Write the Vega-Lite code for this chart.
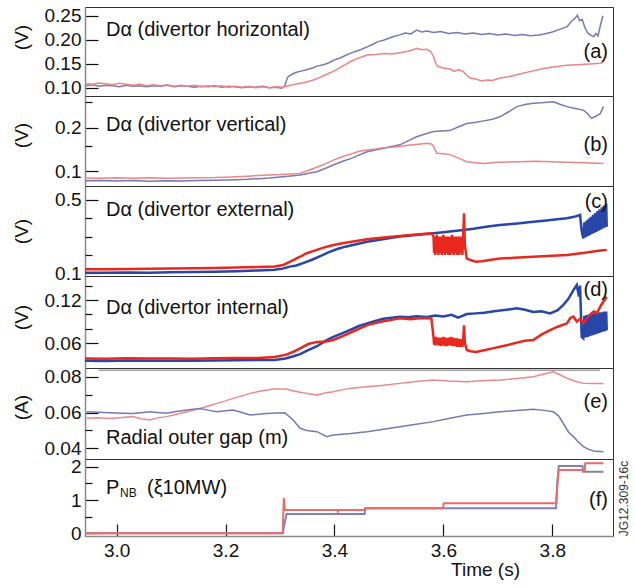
{
"$schema": "https://vega.github.io/schema/vega-lite/v6.json",
"padding": {"left": 11, "top": 6, "right": 0, "bottom": 0},
"config": {
 "font": "Liberation Sans",
 "view": {"stroke": "#333", "strokeWidth": 1},
 "axis": {"grid": false, "labelFontSize": 19, "labelColor": "#111", "titleFontSize": 19, "titleFontWeight": "normal", "titleColor": "#111", "tickColor": "#111", "tickWidth": 1.2, "domainColor": "#8a8a8a", "domainWidth": 1.5, "labelFlush": false, "labelOverlap": false},
 "text": {"font": "Liberation Sans", "fontSize": 20, "color": "#111"}
},
"datasets": {
 "a": [
  {"t":2.942,"v":0.104,"s":"b"},{"t":2.955,"v":0.106,"s":"b"},{"t":2.968,"v":0.103,"s":"b"},{"t":2.98,"v":0.105,"s":"b"},{"t":2.993,"v":0.104,"s":"b"},{"t":3.005,"v":0.102,"s":"b"},{"t":3.018,"v":0.105,"s":"b"},{"t":3.03,"v":0.103,"s":"b"},{"t":3.043,"v":0.104,"s":"b"},{"t":3.055,"v":0.102,"s":"b"},{"t":3.068,"v":0.104,"s":"b"},{"t":3.08,"v":0.103,"s":"b"},{"t":3.093,"v":0.105,"s":"b"},{"t":3.105,"v":0.102,"s":"b"},{"t":3.118,"v":0.104,"s":"b"},{"t":3.13,"v":0.103,"s":"b"},{"t":3.143,"v":0.101,"s":"b"},{"t":3.155,"v":0.103,"s":"b"},{"t":3.168,"v":0.102,"s":"b"},{"t":3.18,"v":0.104,"s":"b"},{"t":3.193,"v":0.101,"s":"b"},{"t":3.205,"v":0.103,"s":"b"},{"t":3.218,"v":0.102,"s":"b"},{"t":3.23,"v":0.1,"s":"b"},{"t":3.243,"v":0.102,"s":"b"},{"t":3.255,"v":0.101,"s":"b"},{"t":3.268,"v":0.103,"s":"b"},{"t":3.28,"v":0.1,"s":"b"},{"t":3.293,"v":0.101,"s":"b"},{"t":3.303,"v":0.099,"s":"b"},{"t":3.309,"v":0.104,"s":"b"},{"t":3.314,"v":0.122,"s":"b"},{"t":3.322,"v":0.128,"s":"b"},{"t":3.33,"v":0.132,"s":"b"},{"t":3.337,"v":0.134,"s":"b"},{"t":3.35,"v":0.138,"s":"b"},{"t":3.36,"v":0.141,"s":"b"},{"t":3.368,"v":0.145,"s":"b"},{"t":3.38,"v":0.148,"s":"b"},{"t":3.39,"v":0.152,"s":"b"},{"t":3.398,"v":0.157,"s":"b"},{"t":3.41,"v":0.162,"s":"b"},{"t":3.42,"v":0.167,"s":"b"},{"t":3.43,"v":0.172,"s":"b"},{"t":3.44,"v":0.176,"s":"b"},{"t":3.45,"v":0.18,"s":"b"},{"t":3.46,"v":0.185,"s":"b"},{"t":3.47,"v":0.19,"s":"b"},{"t":3.48,"v":0.196,"s":"b"},{"t":3.49,"v":0.199,"s":"b"},{"t":3.5,"v":0.203,"s":"b"},{"t":3.51,"v":0.207,"s":"b"},{"t":3.52,"v":0.21,"s":"b"},{"t":3.53,"v":0.214,"s":"b"},{"t":3.54,"v":0.212,"s":"b"},{"t":3.551,"v":0.22,"s":"b"},{"t":3.56,"v":0.216,"s":"b"},{"t":3.57,"v":0.218,"s":"b"},{"t":3.582,"v":0.215,"s":"b"},{"t":3.595,"v":0.217,"s":"b"},{"t":3.61,"v":0.213,"s":"b"},{"t":3.625,"v":0.215,"s":"b"},{"t":3.64,"v":0.212,"s":"b"},{"t":3.655,"v":0.214,"s":"b"},{"t":3.67,"v":0.211,"s":"b"},{"t":3.685,"v":0.213,"s":"b"},{"t":3.7,"v":0.21,"s":"b"},{"t":3.715,"v":0.212,"s":"b"},{"t":3.73,"v":0.209,"s":"b"},{"t":3.745,"v":0.211,"s":"b"},{"t":3.76,"v":0.208,"s":"b"},{"t":3.775,"v":0.21,"s":"b"},{"t":3.785,"v":0.212,"s":"b"},{"t":3.8,"v":0.216,"s":"b"},{"t":3.815,"v":0.222,"s":"b"},{"t":3.827,"v":0.227,"s":"b"},{"t":3.835,"v":0.238,"s":"b"},{"t":3.842,"v":0.245,"s":"b"},{"t":3.846,"v":0.251,"s":"b"},{"t":3.85,"v":0.24,"s":"b"},{"t":3.855,"v":0.242,"s":"b"},{"t":3.86,"v":0.225,"s":"b"},{"t":3.865,"v":0.214,"s":"b"},{"t":3.87,"v":0.21,"s":"b"},{"t":3.876,"v":0.206,"s":"b"},{"t":3.88,"v":0.213,"s":"b"},{"t":3.884,"v":0.208,"s":"b"},{"t":3.888,"v":0.228,"s":"b"},{"t":3.893,"v":0.25,"s":"b"},
  {"t":2.942,"v":0.109,"s":"r"},{"t":2.955,"v":0.107,"s":"r"},{"t":2.968,"v":0.11,"s":"r"},{"t":2.98,"v":0.108,"s":"r"},{"t":2.993,"v":0.106,"s":"r"},{"t":3.005,"v":0.109,"s":"r"},{"t":3.018,"v":0.107,"s":"r"},{"t":3.03,"v":0.105,"s":"r"},{"t":3.043,"v":0.107,"s":"r"},{"t":3.055,"v":0.104,"s":"r"},{"t":3.068,"v":0.106,"s":"r"},{"t":3.08,"v":0.104,"s":"r"},{"t":3.093,"v":0.106,"s":"r"},{"t":3.105,"v":0.103,"s":"r"},{"t":3.118,"v":0.105,"s":"r"},{"t":3.13,"v":0.103,"s":"r"},{"t":3.143,"v":0.105,"s":"r"},{"t":3.155,"v":0.102,"s":"r"},{"t":3.168,"v":0.104,"s":"r"},{"t":3.18,"v":0.102,"s":"r"},{"t":3.193,"v":0.104,"s":"r"},{"t":3.205,"v":0.101,"s":"r"},{"t":3.218,"v":0.103,"s":"r"},{"t":3.23,"v":0.101,"s":"r"},{"t":3.243,"v":0.103,"s":"r"},{"t":3.255,"v":0.1,"s":"r"},{"t":3.268,"v":0.102,"s":"r"},{"t":3.28,"v":0.1,"s":"r"},{"t":3.293,"v":0.102,"s":"r"},{"t":3.305,"v":0.101,"s":"r"},{"t":3.315,"v":0.104,"s":"r"},{"t":3.328,"v":0.107,"s":"r"},{"t":3.34,"v":0.11,"s":"r"},{"t":3.352,"v":0.113,"s":"r"},{"t":3.361,"v":0.116,"s":"r"},{"t":3.37,"v":0.12,"s":"r"},{"t":3.38,"v":0.125,"s":"r"},{"t":3.39,"v":0.13,"s":"r"},{"t":3.398,"v":0.134,"s":"r"},{"t":3.41,"v":0.142,"s":"r"},{"t":3.42,"v":0.148,"s":"r"},{"t":3.429,"v":0.154,"s":"r"},{"t":3.44,"v":0.16,"s":"r"},{"t":3.45,"v":0.164,"s":"r"},{"t":3.46,"v":0.168,"s":"r"},{"t":3.475,"v":0.169,"s":"r"},{"t":3.49,"v":0.171,"s":"r"},{"t":3.505,"v":0.17,"s":"r"},{"t":3.52,"v":0.173,"s":"r"},{"t":3.535,"v":0.176,"s":"r"},{"t":3.545,"v":0.179,"s":"r"},{"t":3.551,"v":0.182,"s":"r"},{"t":3.56,"v":0.179,"s":"r"},{"t":3.57,"v":0.18,"s":"r"},{"t":3.577,"v":0.175,"s":"r"},{"t":3.582,"v":0.165,"s":"r"},{"t":3.586,"v":0.15,"s":"r"},{"t":3.59,"v":0.144,"s":"r"},{"t":3.6,"v":0.141,"s":"r"},{"t":3.612,"v":0.139,"s":"r"},{"t":3.62,"v":0.134,"s":"r"},{"t":3.628,"v":0.138,"s":"r"},{"t":3.636,"v":0.134,"s":"r"},{"t":3.643,"v":0.126,"s":"r"},{"t":3.649,"v":0.12,"s":"r"},{"t":3.66,"v":0.118,"s":"r"},{"t":3.67,"v":0.114,"s":"r"},{"t":3.68,"v":0.116,"s":"r"},{"t":3.69,"v":0.115,"s":"r"},{"t":3.704,"v":0.12,"s":"r"},{"t":3.72,"v":0.123,"s":"r"},{"t":3.735,"v":0.127,"s":"r"},{"t":3.75,"v":0.131,"s":"r"},{"t":3.765,"v":0.135,"s":"r"},{"t":3.78,"v":0.139,"s":"r"},{"t":3.795,"v":0.142,"s":"r"},{"t":3.81,"v":0.144,"s":"r"},{"t":3.827,"v":0.147,"s":"r"},{"t":3.845,"v":0.148,"s":"r"},{"t":3.86,"v":0.149,"s":"r"},{"t":3.875,"v":0.15,"s":"r"},{"t":3.888,"v":0.151,"s":"r"},{"t":3.894,"v":0.153,"s":"r"}
 ],
 "b": [
  {"t":2.942,"v":0.0855,"s":"b"},{"t":2.97,"v":0.086,"s":"b"},{"t":3.0,"v":0.0852,"s":"b"},{"t":3.03,"v":0.0858,"s":"b"},{"t":3.06,"v":0.085,"s":"b"},{"t":3.09,"v":0.0856,"s":"b"},{"t":3.12,"v":0.0853,"s":"b"},{"t":3.15,"v":0.0858,"s":"b"},{"t":3.18,"v":0.0862,"s":"b"},{"t":3.2,"v":0.0865,"s":"b"},{"t":3.22,"v":0.087,"s":"b"},{"t":3.24,"v":0.0875,"s":"b"},{"t":3.26,"v":0.0885,"s":"b"},{"t":3.28,"v":0.0895,"s":"b"},{"t":3.3,"v":0.091,"s":"b"},{"t":3.32,"v":0.0925,"s":"b"},{"t":3.337,"v":0.0938,"s":"b"},{"t":3.355,"v":0.097,"s":"b"},{"t":3.368,"v":0.099,"s":"b"},{"t":3.385,"v":0.105,"s":"b"},{"t":3.398,"v":0.11,"s":"b"},{"t":3.415,"v":0.117,"s":"b"},{"t":3.43,"v":0.122,"s":"b"},{"t":3.445,"v":0.129,"s":"b"},{"t":3.46,"v":0.136,"s":"b"},{"t":3.475,"v":0.14,"s":"b"},{"t":3.49,"v":0.144,"s":"b"},{"t":3.505,"v":0.148,"s":"b"},{"t":3.52,"v":0.152,"s":"b"},{"t":3.535,"v":0.162,"s":"b"},{"t":3.551,"v":0.173,"s":"b"},{"t":3.565,"v":0.18,"s":"b"},{"t":3.582,"v":0.188,"s":"b"},{"t":3.597,"v":0.19,"s":"b"},{"t":3.612,"v":0.191,"s":"b"},{"t":3.628,"v":0.203,"s":"b"},{"t":3.643,"v":0.214,"s":"b"},{"t":3.66,"v":0.218,"s":"b"},{"t":3.674,"v":0.223,"s":"b"},{"t":3.69,"v":0.229,"s":"b"},{"t":3.704,"v":0.238,"s":"b"},{"t":3.72,"v":0.258,"s":"b"},{"t":3.735,"v":0.28,"s":"b"},{"t":3.75,"v":0.29,"s":"b"},{"t":3.765,"v":0.296,"s":"b"},{"t":3.78,"v":0.298,"s":"b"},{"t":3.802,"v":0.303,"s":"b"},{"t":3.815,"v":0.29,"s":"b"},{"t":3.827,"v":0.28,"s":"b"},{"t":3.842,"v":0.272,"s":"b"},{"t":3.857,"v":0.265,"s":"b"},{"t":3.865,"v":0.25,"s":"b"},{"t":3.872,"v":0.232,"s":"b"},{"t":3.88,"v":0.24,"s":"b"},{"t":3.888,"v":0.25,"s":"b"},{"t":3.894,"v":0.28,"s":"b"},
  {"t":2.942,"v":0.0895,"s":"r"},{"t":2.97,"v":0.089,"s":"r"},{"t":3.0,"v":0.0898,"s":"r"},{"t":3.03,"v":0.0892,"s":"r"},{"t":3.06,"v":0.0897,"s":"r"},{"t":3.09,"v":0.089,"s":"r"},{"t":3.12,"v":0.0895,"s":"r"},{"t":3.15,"v":0.0898,"s":"r"},{"t":3.18,"v":0.09,"s":"r"},{"t":3.2,"v":0.0905,"s":"r"},{"t":3.22,"v":0.0912,"s":"r"},{"t":3.24,"v":0.092,"s":"r"},{"t":3.26,"v":0.093,"s":"r"},{"t":3.28,"v":0.094,"s":"r"},{"t":3.3,"v":0.0945,"s":"r"},{"t":3.32,"v":0.0955,"s":"r"},{"t":3.337,"v":0.0963,"s":"r"},{"t":3.355,"v":0.102,"s":"r"},{"t":3.37,"v":0.107,"s":"r"},{"t":3.385,"v":0.113,"s":"r"},{"t":3.398,"v":0.119,"s":"r"},{"t":3.415,"v":0.126,"s":"r"},{"t":3.43,"v":0.131,"s":"r"},{"t":3.445,"v":0.137,"s":"r"},{"t":3.46,"v":0.14,"s":"r"},{"t":3.475,"v":0.142,"s":"r"},{"t":3.49,"v":0.145,"s":"r"},{"t":3.505,"v":0.146,"s":"r"},{"t":3.52,"v":0.148,"s":"r"},{"t":3.535,"v":0.151,"s":"r"},{"t":3.55,"v":0.153,"s":"r"},{"t":3.57,"v":0.156,"s":"r"},{"t":3.578,"v":0.154,"s":"r"},{"t":3.582,"v":0.148,"s":"r"},{"t":3.588,"v":0.133,"s":"r"},{"t":3.6,"v":0.132,"s":"r"},{"t":3.612,"v":0.13,"s":"r"},{"t":3.628,"v":0.123,"s":"r"},{"t":3.643,"v":0.116,"s":"r"},{"t":3.66,"v":0.114,"s":"r"},{"t":3.674,"v":0.113,"s":"r"},{"t":3.7,"v":0.115,"s":"r"},{"t":3.735,"v":0.116,"s":"r"},{"t":3.77,"v":0.117,"s":"r"},{"t":3.8,"v":0.116,"s":"r"},{"t":3.827,"v":0.115,"s":"r"},{"t":3.86,"v":0.114,"s":"r"},{"t":3.894,"v":0.113,"s":"r"}
 ],
 "c": [
  {"t":2.942,"v":0.103,"s":"b"},{"t":2.98,"v":0.102,"s":"b"},{"t":3.02,"v":0.104,"s":"b"},{"t":3.06,"v":0.103,"s":"b"},{"t":3.1,"v":0.105,"s":"b"},{"t":3.14,"v":0.106,"s":"b"},{"t":3.18,"v":0.108,"s":"b"},{"t":3.22,"v":0.111,"s":"b"},{"t":3.26,"v":0.115,"s":"b"},{"t":3.29,"v":0.119,"s":"b"},{"t":3.305,"v":0.125,"s":"b"},{"t":3.318,"v":0.136,"s":"b"},{"t":3.33,"v":0.142,"s":"b"},{"t":3.345,"v":0.158,"s":"b"},{"t":3.36,"v":0.175,"s":"b"},{"t":3.375,"v":0.195,"s":"b"},{"t":3.39,"v":0.215,"s":"b"},{"t":3.405,"v":0.232,"s":"b"},{"t":3.42,"v":0.245,"s":"b"},{"t":3.44,"v":0.258,"s":"b"},{"t":3.46,"v":0.272,"s":"b"},{"t":3.48,"v":0.282,"s":"b"},{"t":3.5,"v":0.291,"s":"b"},{"t":3.52,"v":0.3,"s":"b"},{"t":3.54,"v":0.306,"s":"b"},{"t":3.56,"v":0.312,"s":"b"},{"t":3.582,"v":0.318,"s":"b"},{"t":3.6,"v":0.324,"s":"b"},{"t":3.62,"v":0.33,"s":"b"},{"t":3.637,"v":0.336,"s":"b"},{"t":3.655,"v":0.343,"s":"b"},{"t":3.67,"v":0.35,"s":"b"},{"t":3.685,"v":0.356,"s":"b"},{"t":3.704,"v":0.363,"s":"b"},{"t":3.72,"v":0.368,"s":"b"},{"t":3.74,"v":0.373,"s":"b"},{"t":3.765,"v":0.381,"s":"b"},{"t":3.785,"v":0.387,"s":"b"},{"t":3.805,"v":0.393,"s":"b"},{"t":3.827,"v":0.4,"s":"b"},{"t":3.84,"v":0.408,"s":"b"},{"t":3.851,"v":0.418,"s":"b"},{"t":3.854,"v":0.33,"s":"b"},
  {"t":3.857,"v":0.29,"s":"b"},{"t":3.859,"v":0.378,"s":"b"},{"t":3.861,"v":0.296,"s":"b"},{"t":3.863,"v":0.388,"s":"b"},{"t":3.865,"v":0.302,"s":"b"},{"t":3.867,"v":0.398,"s":"b"},{"t":3.869,"v":0.308,"s":"b"},{"t":3.871,"v":0.408,"s":"b"},{"t":3.873,"v":0.314,"s":"b"},{"t":3.875,"v":0.419,"s":"b"},{"t":3.877,"v":0.32,"s":"b"},{"t":3.879,"v":0.429,"s":"b"},{"t":3.881,"v":0.326,"s":"b"},{"t":3.883,"v":0.439,"s":"b"},{"t":3.885,"v":0.332,"s":"b"},{"t":3.887,"v":0.449,"s":"b"},{"t":3.889,"v":0.338,"s":"b"},{"t":3.891,"v":0.46,"s":"b"},{"t":3.893,"v":0.344,"s":"b"},{"t":3.895,"v":0.47,"s":"b"},{"t":3.897,"v":0.35,"s":"b"},{"t":3.899,"v":0.48,"s":"b"},{"t":3.9,"v":0.354,"s":"b"},
  {"t":2.942,"v":0.121,"s":"r"},{"t":2.98,"v":0.122,"s":"r"},{"t":3.02,"v":0.123,"s":"r"},{"t":3.06,"v":0.124,"s":"r"},{"t":3.1,"v":0.126,"s":"r"},{"t":3.14,"v":0.127,"s":"r"},{"t":3.18,"v":0.129,"s":"r"},{"t":3.22,"v":0.131,"s":"r"},{"t":3.26,"v":0.134,"s":"r"},{"t":3.29,"v":0.137,"s":"r"},{"t":3.306,"v":0.145,"s":"r"},{"t":3.318,"v":0.162,"s":"r"},{"t":3.337,"v":0.19,"s":"r"},{"t":3.349,"v":0.209,"s":"r"},{"t":3.365,"v":0.225,"s":"r"},{"t":3.38,"v":0.24,"s":"r"},{"t":3.398,"v":0.254,"s":"r"},{"t":3.42,"v":0.266,"s":"r"},{"t":3.44,"v":0.276,"s":"r"},{"t":3.46,"v":0.285,"s":"r"},{"t":3.49,"v":0.295,"s":"r"},{"t":3.52,"v":0.303,"s":"r"},{"t":3.55,"v":0.311,"s":"r"},{"t":3.578,"v":0.318,"s":"r"},
  {"t":3.582,"v":0.3,"s":"r"},{"t":3.583,"v":0.21,"s":"r"},{"t":3.584,"v":0.29,"s":"r"},{"t":3.585,"v":0.2,"s":"r"},{"t":3.586,"v":0.3,"s":"r"},{"t":3.587,"v":0.22,"s":"r"},{"t":3.588,"v":0.31,"s":"r"},{"t":3.589,"v":0.21,"s":"r"},{"t":3.59,"v":0.28,"s":"r"},{"t":3.591,"v":0.2,"s":"r"},{"t":3.592,"v":0.3,"s":"r"},{"t":3.593,"v":0.22,"s":"r"},{"t":3.594,"v":0.29,"s":"r"},{"t":3.595,"v":0.21,"s":"r"},{"t":3.596,"v":0.3,"s":"r"},{"t":3.597,"v":0.2,"s":"r"},{"t":3.598,"v":0.28,"s":"r"},{"t":3.599,"v":0.22,"s":"r"},{"t":3.6,"v":0.31,"s":"r"},{"t":3.601,"v":0.21,"s":"r"},{"t":3.602,"v":0.29,"s":"r"},{"t":3.603,"v":0.2,"s":"r"},{"t":3.604,"v":0.3,"s":"r"},{"t":3.605,"v":0.21,"s":"r"},{"t":3.606,"v":0.29,"s":"r"},{"t":3.607,"v":0.22,"s":"r"},{"t":3.608,"v":0.3,"s":"r"},{"t":3.609,"v":0.2,"s":"r"},{"t":3.61,"v":0.29,"s":"r"},{"t":3.611,"v":0.21,"s":"r"},{"t":3.612,"v":0.3,"s":"r"},{"t":3.613,"v":0.2,"s":"r"},{"t":3.614,"v":0.28,"s":"r"},{"t":3.615,"v":0.22,"s":"r"},{"t":3.616,"v":0.31,"s":"r"},{"t":3.617,"v":0.21,"s":"r"},{"t":3.618,"v":0.29,"s":"r"},{"t":3.619,"v":0.2,"s":"r"},{"t":3.62,"v":0.3,"s":"r"},{"t":3.621,"v":0.21,"s":"r"},{"t":3.622,"v":0.29,"s":"r"},{"t":3.623,"v":0.22,"s":"r"},{"t":3.624,"v":0.3,"s":"r"},{"t":3.625,"v":0.2,"s":"r"},{"t":3.626,"v":0.29,"s":"r"},{"t":3.627,"v":0.21,"s":"r"},{"t":3.628,"v":0.3,"s":"r"},{"t":3.629,"v":0.2,"s":"r"},{"t":3.63,"v":0.28,"s":"r"},{"t":3.631,"v":0.22,"s":"r"},{"t":3.632,"v":0.3,"s":"r"},{"t":3.633,"v":0.21,"s":"r"},{"t":3.634,"v":0.29,"s":"r"},{"t":3.635,"v":0.2,"s":"r"},{"t":3.636,"v":0.27,"s":"r"},
  {"t":3.638,"v":0.427,"s":"r"},{"t":3.6395,"v":0.25,"s":"r"},{"t":3.643,"v":0.181,"s":"r"},{"t":3.65,"v":0.172,"s":"r"},{"t":3.66,"v":0.162,"s":"r"},{"t":3.67,"v":0.165,"s":"r"},{"t":3.685,"v":0.172,"s":"r"},{"t":3.704,"v":0.18,"s":"r"},{"t":3.73,"v":0.184,"s":"r"},{"t":3.765,"v":0.19,"s":"r"},{"t":3.8,"v":0.195,"s":"r"},{"t":3.827,"v":0.2,"s":"r"},{"t":3.86,"v":0.212,"s":"r"},{"t":3.888,"v":0.224,"s":"r"},{"t":3.9,"v":0.227,"s":"r"}
 ],
 "d": [
  {"t":2.942,"v":0.036,"s":"b"},{"t":2.98,"v":0.0355,"s":"b"},{"t":3.02,"v":0.0362,"s":"b"},{"t":3.06,"v":0.0358,"s":"b"},{"t":3.1,"v":0.036,"s":"b"},{"t":3.14,"v":0.0357,"s":"b"},{"t":3.18,"v":0.0362,"s":"b"},{"t":3.22,"v":0.0365,"s":"b"},{"t":3.26,"v":0.0368,"s":"b"},{"t":3.29,"v":0.037,"s":"b"},{"t":3.31,"v":0.039,"s":"b"},{"t":3.325,"v":0.042,"s":"b"},{"t":3.337,"v":0.045,"s":"b"},{"t":3.35,"v":0.05,"s":"b"},{"t":3.368,"v":0.056,"s":"b"},{"t":3.385,"v":0.064,"s":"b"},{"t":3.398,"v":0.069,"s":"b"},{"t":3.415,"v":0.074,"s":"b"},{"t":3.43,"v":0.079,"s":"b"},{"t":3.445,"v":0.084,"s":"b"},{"t":3.46,"v":0.0877,"s":"b"},{"t":3.475,"v":0.091,"s":"b"},{"t":3.49,"v":0.094,"s":"b"},{"t":3.505,"v":0.0955,"s":"b"},{"t":3.52,"v":0.0969,"s":"b"},{"t":3.535,"v":0.096,"s":"b"},{"t":3.55,"v":0.0975,"s":"b"},{"t":3.57,"v":0.0965,"s":"b"},{"t":3.585,"v":0.0985,"s":"b"},{"t":3.6,"v":0.0972,"s":"b"},{"t":3.615,"v":0.0995,"s":"b"},{"t":3.627,"v":0.0955,"s":"b"},{"t":3.643,"v":0.1005,"s":"b"},{"t":3.66,"v":0.1015,"s":"b"},{"t":3.675,"v":0.1025,"s":"b"},{"t":3.69,"v":0.104,"s":"b"},{"t":3.704,"v":0.1055,"s":"b"},{"t":3.72,"v":0.107,"s":"b"},{"t":3.735,"v":0.1085,"s":"b"},{"t":3.75,"v":0.1065,"s":"b"},{"t":3.765,"v":0.1035,"s":"b"},{"t":3.78,"v":0.1045,"s":"b"},{"t":3.796,"v":0.1015,"s":"b"},{"t":3.81,"v":0.106,"s":"b"},{"t":3.82,"v":0.113,"s":"b"},{"t":3.83,"v":0.122,"s":"b"},{"t":3.839,"v":0.134,"s":"b"},{"t":3.845,"v":0.1408,"s":"b"},{"t":3.849,"v":0.125,"s":"b"},{"t":3.851,"v":0.14,"s":"b"},{"t":3.854,"v":0.069,"s":"b"},
  {"t":3.857,"v":0.067,"s":"b"},{"t":3.859,"v":0.098,"s":"b"},{"t":3.861,"v":0.068,"s":"b"},{"t":3.863,"v":0.099,"s":"b"},{"t":3.865,"v":0.069,"s":"b"},{"t":3.867,"v":0.1,"s":"b"},{"t":3.869,"v":0.07,"s":"b"},{"t":3.871,"v":0.1,"s":"b"},{"t":3.873,"v":0.071,"s":"b"},{"t":3.875,"v":0.101,"s":"b"},{"t":3.877,"v":0.072,"s":"b"},{"t":3.879,"v":0.102,"s":"b"},{"t":3.881,"v":0.073,"s":"b"},{"t":3.883,"v":0.102,"s":"b"},{"t":3.885,"v":0.074,"s":"b"},{"t":3.887,"v":0.103,"s":"b"},{"t":3.889,"v":0.075,"s":"b"},{"t":3.891,"v":0.103,"s":"b"},{"t":3.893,"v":0.076,"s":"b"},{"t":3.895,"v":0.104,"s":"b"},{"t":3.897,"v":0.077,"s":"b"},{"t":3.899,"v":0.104,"s":"b"},{"t":3.9,"v":0.078,"s":"b"},
  {"t":2.942,"v":0.039,"s":"r"},{"t":2.98,"v":0.0385,"s":"r"},{"t":3.02,"v":0.0392,"s":"r"},{"t":3.06,"v":0.0388,"s":"r"},{"t":3.1,"v":0.039,"s":"r"},{"t":3.14,"v":0.0387,"s":"r"},{"t":3.18,"v":0.0392,"s":"r"},{"t":3.22,"v":0.0395,"s":"r"},{"t":3.26,"v":0.0398,"s":"r"},{"t":3.29,"v":0.041,"s":"r"},{"t":3.31,"v":0.044,"s":"r"},{"t":3.324,"v":0.048,"s":"r"},{"t":3.337,"v":0.053,"s":"r"},{"t":3.352,"v":0.059,"s":"r"},{"t":3.368,"v":0.062,"s":"r"},{"t":3.385,"v":0.0625,"s":"r"},{"t":3.398,"v":0.0646,"s":"r"},{"t":3.415,"v":0.07,"s":"r"},{"t":3.43,"v":0.075,"s":"r"},{"t":3.445,"v":0.08,"s":"r"},{"t":3.46,"v":0.0853,"s":"r"},{"t":3.475,"v":0.088,"s":"r"},{"t":3.49,"v":0.0905,"s":"r"},{"t":3.505,"v":0.0925,"s":"r"},{"t":3.52,"v":0.0946,"s":"r"},{"t":3.54,"v":0.0935,"s":"r"},{"t":3.56,"v":0.095,"s":"r"},{"t":3.578,"v":0.0946,"s":"r"},
  {"t":3.582,"v":0.068,"s":"r"},{"t":3.583,"v":0.058,"s":"r"},{"t":3.584,"v":0.067,"s":"r"},{"t":3.585,"v":0.057,"s":"r"},{"t":3.586,"v":0.069,"s":"r"},{"t":3.587,"v":0.059,"s":"r"},{"t":3.588,"v":0.068,"s":"r"},{"t":3.589,"v":0.058,"s":"r"},{"t":3.59,"v":0.066,"s":"r"},{"t":3.591,"v":0.057,"s":"r"},{"t":3.592,"v":0.068,"s":"r"},{"t":3.593,"v":0.058,"s":"r"},{"t":3.594,"v":0.067,"s":"r"},{"t":3.595,"v":0.056,"s":"r"},{"t":3.596,"v":0.068,"s":"r"},{"t":3.597,"v":0.058,"s":"r"},{"t":3.598,"v":0.066,"s":"r"},{"t":3.599,"v":0.057,"s":"r"},{"t":3.6,"v":0.069,"s":"r"},{"t":3.601,"v":0.058,"s":"r"},{"t":3.602,"v":0.067,"s":"r"},{"t":3.603,"v":0.056,"s":"r"},{"t":3.604,"v":0.068,"s":"r"},{"t":3.605,"v":0.057,"s":"r"},{"t":3.606,"v":0.066,"s":"r"},{"t":3.607,"v":0.056,"s":"r"},{"t":3.608,"v":0.067,"s":"r"},{"t":3.609,"v":0.057,"s":"r"},{"t":3.61,"v":0.068,"s":"r"},{"t":3.611,"v":0.058,"s":"r"},{"t":3.612,"v":0.066,"s":"r"},{"t":3.613,"v":0.057,"s":"r"},{"t":3.614,"v":0.069,"s":"r"},{"t":3.615,"v":0.058,"s":"r"},{"t":3.616,"v":0.067,"s":"r"},{"t":3.617,"v":0.056,"s":"r"},{"t":3.618,"v":0.068,"s":"r"},{"t":3.619,"v":0.057,"s":"r"},{"t":3.62,"v":0.066,"s":"r"},{"t":3.621,"v":0.056,"s":"r"},{"t":3.622,"v":0.067,"s":"r"},{"t":3.623,"v":0.057,"s":"r"},{"t":3.624,"v":0.066,"s":"r"},{"t":3.625,"v":0.055,"s":"r"},{"t":3.626,"v":0.067,"s":"r"},{"t":3.627,"v":0.056,"s":"r"},{"t":3.628,"v":0.066,"s":"r"},{"t":3.629,"v":0.055,"s":"r"},{"t":3.63,"v":0.065,"s":"r"},{"t":3.631,"v":0.056,"s":"r"},{"t":3.632,"v":0.066,"s":"r"},{"t":3.633,"v":0.055,"s":"r"},{"t":3.634,"v":0.065,"s":"r"},{"t":3.635,"v":0.055,"s":"r"},{"t":3.636,"v":0.062,"s":"r"},
  {"t":3.638,"v":0.085,"s":"r"},{"t":3.6395,"v":0.06,"s":"r"},{"t":3.643,"v":0.0507,"s":"r"},{"t":3.65,"v":0.049,"s":"r"},{"t":3.66,"v":0.048,"s":"r"},{"t":3.675,"v":0.0505,"s":"r"},{"t":3.69,"v":0.053,"s":"r"},{"t":3.704,"v":0.0553,"s":"r"},{"t":3.72,"v":0.058,"s":"r"},{"t":3.735,"v":0.061,"s":"r"},{"t":3.75,"v":0.0635,"s":"r"},{"t":3.765,"v":0.0646,"s":"r"},{"t":3.78,"v":0.072,"s":"r"},{"t":3.795,"v":0.078,"s":"r"},{"t":3.81,"v":0.083,"s":"r"},{"t":3.827,"v":0.0877,"s":"r"},{"t":3.833,"v":0.095,"s":"r"},{"t":3.839,"v":0.097,"s":"r"},{"t":3.845,"v":0.09,"s":"r"},{"t":3.851,"v":0.094,"s":"r"},{"t":3.857,"v":0.088,"s":"r"},{"t":3.863,"v":0.094,"s":"r"},{"t":3.87,"v":0.1,"s":"r"},{"t":3.876,"v":0.104,"s":"r"},{"t":3.882,"v":0.102,"s":"r"},{"t":3.888,"v":0.1107,"s":"r"},{"t":3.894,"v":0.118,"s":"r"},{"t":3.9,"v":0.1246,"s":"r"}
 ],
 "e": [
  {"t":2.945,"v":0.0568,"s":"r"},{"t":2.965,"v":0.0571,"s":"r"},{"t":2.988,"v":0.0566,"s":"r"},{"t":3.01,"v":0.0572,"s":"r"},{"t":3.03,"v":0.0577,"s":"r"},{"t":3.045,"v":0.0565,"s":"r"},{"t":3.061,"v":0.0558,"s":"r"},{"t":3.075,"v":0.057,"s":"r"},{"t":3.092,"v":0.0577,"s":"r"},{"t":3.11,"v":0.059,"s":"r"},{"t":3.129,"v":0.0604,"s":"r"},{"t":3.153,"v":0.0623,"s":"r"},{"t":3.17,"v":0.0638,"s":"r"},{"t":3.184,"v":0.0651,"s":"r"},{"t":3.2,"v":0.0665,"s":"r"},{"t":3.214,"v":0.0679,"s":"r"},{"t":3.23,"v":0.0693,"s":"r"},{"t":3.245,"v":0.0707,"s":"r"},{"t":3.265,"v":0.072,"s":"r"},{"t":3.288,"v":0.0731,"s":"r"},{"t":3.312,"v":0.0731,"s":"r"},{"t":3.325,"v":0.072,"s":"r"},{"t":3.337,"v":0.0714,"s":"r"},{"t":3.352,"v":0.0705,"s":"r"},{"t":3.368,"v":0.0698,"s":"r"},{"t":3.385,"v":0.071,"s":"r"},{"t":3.398,"v":0.0716,"s":"r"},{"t":3.415,"v":0.0728,"s":"r"},{"t":3.429,"v":0.0735,"s":"r"},{"t":3.445,"v":0.074,"s":"r"},{"t":3.46,"v":0.0744,"s":"r"},{"t":3.49,"v":0.0752,"s":"r"},{"t":3.52,"v":0.0763,"s":"r"},{"t":3.55,"v":0.0773,"s":"r"},{"t":3.582,"v":0.0782,"s":"r"},{"t":3.61,"v":0.0776,"s":"r"},{"t":3.643,"v":0.0772,"s":"r"},{"t":3.67,"v":0.0778,"s":"r"},{"t":3.704,"v":0.0782,"s":"r"},{"t":3.735,"v":0.079,"s":"r"},{"t":3.765,"v":0.08,"s":"r"},{"t":3.785,"v":0.0815,"s":"r"},{"t":3.802,"v":0.0828,"s":"r"},{"t":3.815,"v":0.081,"s":"r"},{"t":3.827,"v":0.0791,"s":"r"},{"t":3.842,"v":0.0775,"s":"r"},{"t":3.857,"v":0.0763,"s":"r"},{"t":3.875,"v":0.0762,"s":"r"},{"t":3.894,"v":0.0762,"s":"r"},
  {"t":2.945,"v":0.0604,"s":"b"},{"t":2.965,"v":0.0601,"s":"b"},{"t":2.988,"v":0.0599,"s":"b"},{"t":3.01,"v":0.0596,"s":"b"},{"t":3.03,"v":0.0594,"s":"b"},{"t":3.045,"v":0.0599,"s":"b"},{"t":3.061,"v":0.0604,"s":"b"},{"t":3.075,"v":0.06,"s":"b"},{"t":3.092,"v":0.0596,"s":"b"},{"t":3.11,"v":0.0606,"s":"b"},{"t":3.129,"v":0.0614,"s":"b"},{"t":3.153,"v":0.0623,"s":"b"},{"t":3.17,"v":0.0612,"s":"b"},{"t":3.184,"v":0.0604,"s":"b"},{"t":3.2,"v":0.061,"s":"b"},{"t":3.214,"v":0.0614,"s":"b"},{"t":3.23,"v":0.06,"s":"b"},{"t":3.245,"v":0.0586,"s":"b"},{"t":3.26,"v":0.059,"s":"b"},{"t":3.275,"v":0.0594,"s":"b"},{"t":3.295,"v":0.0597,"s":"b"},{"t":3.309,"v":0.0599,"s":"b"},{"t":3.324,"v":0.0558,"s":"b"},{"t":3.337,"v":0.0512,"s":"b"},{"t":3.349,"v":0.05,"s":"b"},{"t":3.368,"v":0.0493,"s":"b"},{"t":3.386,"v":0.0465,"s":"b"},{"t":3.398,"v":0.0474,"s":"b"},{"t":3.43,"v":0.0482,"s":"b"},{"t":3.46,"v":0.0493,"s":"b"},{"t":3.49,"v":0.0507,"s":"b"},{"t":3.52,"v":0.0521,"s":"b"},{"t":3.55,"v":0.0535,"s":"b"},{"t":3.582,"v":0.0549,"s":"b"},{"t":3.612,"v":0.0568,"s":"b"},{"t":3.643,"v":0.0586,"s":"b"},{"t":3.674,"v":0.0595,"s":"b"},{"t":3.704,"v":0.0604,"s":"b"},{"t":3.735,"v":0.0611,"s":"b"},{"t":3.765,"v":0.0618,"s":"b"},{"t":3.785,"v":0.0612,"s":"b"},{"t":3.802,"v":0.0604,"s":"b"},{"t":3.812,"v":0.058,"s":"b"},{"t":3.82,"v":0.054,"s":"b"},{"t":3.83,"v":0.049,"s":"b"},{"t":3.839,"v":0.0465,"s":"b"},{"t":3.848,"v":0.0435,"s":"b"},{"t":3.857,"v":0.0409,"s":"b"},{"t":3.866,"v":0.0395,"s":"b"},{"t":3.876,"v":0.0385,"s":"b"},{"t":3.894,"v":0.038,"s":"b"},
  {"t":2.967,"v":0.0837,"s":"g"},{"t":3.888,"v":0.0837,"s":"g"}
 ],
 "f": [
  {"t":2.942,"v":0,"s":"b"},{"t":3.305,"v":0,"s":"b"},{"t":3.312,"v":0.58,"s":"b"},{"t":3.4555,"v":0.58,"s":"b"},{"t":3.4565,"v":0.75,"s":"b"},{"t":3.807,"v":0.75,"s":"b"},{"t":3.8095,"v":1.6,"s":"b"},{"t":3.812,"v":2.02,"s":"b"},{"t":3.8555,"v":2.02,"s":"b"},{"t":3.8565,"v":1.85,"s":"b"},{"t":3.894,"v":1.85,"s":"b"},
  {"t":2.942,"v":0,"s":"r"},{"t":3.305,"v":0,"s":"r"},{"t":3.307,"v":1.06,"s":"r"},{"t":3.309,"v":0.7,"s":"r"},{"t":3.406,"v":0.7,"s":"r"},{"t":3.4065,"v":0.62,"s":"r"},{"t":3.407,"v":0.7,"s":"r"},{"t":3.4555,"v":0.7,"s":"r"},{"t":3.4565,"v":0.75,"s":"r"},{"t":3.5995,"v":0.75,"s":"r"},{"t":3.6005,"v":0.9,"s":"r"},{"t":3.807,"v":0.9,"s":"r"},{"t":3.8095,"v":1.5,"s":"r"},{"t":3.812,"v":1.9,"s":"r"},{"t":3.8595,"v":1.9,"s":"r"},{"t":3.8605,"v":2.1,"s":"r"},{"t":3.894,"v":2.1,"s":"r"}
 ]
},
"vconcat": [
 {
  "width": 528, "height": 89,
  "resolve": {"axis": {"x": "independent", "y": "independent"}},
  "layer": [
   {"data": {"name": "a"}, "mark": {"type": "line", "strokeWidth": 1.5},
    "encoding": {
     "x": {"field": "t", "type": "quantitative", "scale": {"domain": [2.942, 3.9115], "nice": false, "zero": false}, "axis": null},
     "y": {"field": "v", "type": "quantitative", "scale": {"domain": [0.0827, 0.2681], "nice": false, "zero": false},
      "axis": {"values": [0.1, 0.15, 0.2, 0.25], "format": ".2f", "tickSize": -13, "labelPadding": 17, "title": "(V)", "titleX": -64, "titleY": 30, "titleAngle": 270, "titleBaseline": "middle", "titleAlign": "center"}},
     "color": {"field": "s", "type": "nominal", "scale": {"domain": ["b", "r"], "range": ["#7878b8", "#ef8484"]}, "legend": null}}},
   {"data": {"values": [{"t": 2.9805, "v": 0.2202, "label": "Dα (divertor horizontal)"}]}, "mark": {"type": "text", "align": "left", "baseline": "middle"},
    "encoding": {"x": {"field": "t", "type": "quantitative", "axis": null}, "y": {"field": "v", "type": "quantitative", "axis": null}, "text": {"field": "label"}}},
   {"data": {"values": [{"t": 3.9023, "v": 0.1744, "label": "(a)"}]}, "mark": {"type": "text", "align": "right", "baseline": "middle"},
    "encoding": {"x": {"field": "t", "type": "quantitative", "axis": null}, "y": {"field": "v", "type": "quantitative", "axis": null}, "text": {"field": "label"}}}
  ]
 },
 {
  "width": 528, "height": 90,
  "resolve": {"axis": {"x": "independent", "y": "independent"}},
  "layer": [
   {"data": {"name": "b"}, "mark": {"type": "line", "strokeWidth": 1.5},
    "encoding": {
     "x": {"field": "t", "type": "quantitative", "scale": {"domain": [2.942, 3.9115], "nice": false, "zero": false}, "axis": null},
     "y": {"field": "v", "type": "quantitative", "scale": {"type": "log", "domain": [0.0787, 0.332], "nice": false},
      "axis": {"values": [0.1, 0.2], "format": ".1f", "tickSize": -13, "labelPadding": 17, "title": "(V)", "titleX": -64, "titleY": 39, "titleAngle": 270, "titleBaseline": "middle", "titleAlign": "center"}},
     "color": {"field": "s", "type": "nominal", "scale": {"domain": ["b", "r"], "range": ["#7878b8", "#ef8484"]}, "legend": null}}},
   {"data": {"values": [{"t": 2.9805, "v": 0.2088, "label": "Dα (divertor vertical)"}]}, "mark": {"type": "text", "align": "left", "baseline": "middle"},
    "encoding": {"x": {"field": "t", "type": "quantitative", "axis": null}, "y": {"field": "v", "type": "quantitative", "axis": {"orient": "left", "values": [0.15, 0.3], "tickSize": -7, "labels": false, "domain": false, "title": null, "grid": false}}, "text": {"field": "label"}}},
   {"data": {"values": [{"t": 3.9023, "v": 0.1516, "label": "(b)"}]}, "mark": {"type": "text", "align": "right", "baseline": "middle"},
    "encoding": {"x": {"field": "t", "type": "quantitative", "axis": null}, "y": {"field": "v", "type": "quantitative", "axis": null}, "text": {"field": "label"}}}
  ]
 },
 {
  "width": 528, "height": 90,
  "resolve": {"axis": {"x": "independent", "y": "independent"}},
  "layer": [
   {"data": {"name": "c"}, "mark": {"type": "line", "strokeWidth": 2.5},
    "encoding": {
     "x": {"field": "t", "type": "quantitative", "scale": {"domain": [2.942, 3.9115], "nice": false, "zero": false}, "axis": null},
     "y": {"field": "v", "type": "quantitative", "scale": {"domain": [0.0847, 0.5765], "nice": false, "zero": false},
      "axis": {"values": [0.1, 0.5], "format": ".1f", "tickSize": -13, "labelPadding": 17, "title": "(V)", "titleX": -64, "titleY": 45, "titleAngle": 270, "titleBaseline": "middle", "titleAlign": "center"}},
     "color": {"field": "s", "type": "nominal", "scale": {"domain": ["b", "r"], "range": ["#2845a8", "#e8281e"]}, "legend": null}}},
   {"data": {"values": [{"t": 2.9805, "v": 0.445, "label": "Dα (divertor external)"}]}, "mark": {"type": "text", "align": "left", "baseline": "middle"},
    "encoding": {"x": {"field": "t", "type": "quantitative", "axis": null}, "y": {"field": "v", "type": "quantitative", "axis": {"orient": "left", "values": [0.2, 0.3, 0.4], "tickSize": -7, "labels": false, "domain": false, "title": null, "grid": false}}, "text": {"field": "label"}}},
   {"data": {"values": [{"t": 3.9023, "v": 0.491, "label": "(c)"}]}, "mark": {"type": "text", "align": "right", "baseline": "middle"},
    "encoding": {"x": {"field": "t", "type": "quantitative", "axis": null}, "y": {"field": "v", "type": "quantitative", "axis": null}, "text": {"field": "label"}}}
  ]
 },
 {
  "width": 528, "height": 92,
  "resolve": {"axis": {"x": "independent", "y": "independent"}},
  "layer": [
   {"data": {"name": "d"}, "mark": {"type": "line", "strokeWidth": 2.5},
    "encoding": {
     "x": {"field": "t", "type": "quantitative", "scale": {"domain": [2.942, 3.9115], "nice": false, "zero": false}, "axis": null},
     "y": {"field": "v", "type": "quantitative", "scale": {"domain": [0.0258, 0.1533], "nice": false, "zero": false},
      "axis": {"values": [0.06, 0.12], "format": ".2f", "tickSize": -13, "labelPadding": 17, "title": "(V)", "titleX": -64, "titleY": 41, "titleAngle": 270, "titleBaseline": "middle", "titleAlign": "center"}},
     "color": {"field": "s", "type": "nominal", "scale": {"domain": ["b", "r"], "range": ["#2845a8", "#e8281e"]}, "legend": null}}},
   {"data": {"values": [{"t": 2.9805, "v": 0.1085, "label": "Dα (divertor internal)"}]}, "mark": {"type": "text", "align": "left", "baseline": "middle"},
    "encoding": {"x": {"field": "t", "type": "quantitative", "axis": null}, "y": {"field": "v", "type": "quantitative", "axis": {"orient": "left", "values": [0.04, 0.08, 0.1, 0.14], "tickSize": -7, "labels": false, "domain": false, "title": null, "grid": false}}, "text": {"field": "label"}}},
   {"data": {"values": [{"t": 3.9023, "v": 0.1339, "label": "(d)"}]}, "mark": {"type": "text", "align": "right", "baseline": "middle"},
    "encoding": {"x": {"field": "t", "type": "quantitative", "axis": null}, "y": {"field": "v", "type": "quantitative", "axis": null}, "text": {"field": "label"}}}
  ]
 },
 {
  "width": 528, "height": 91,
  "resolve": {"axis": {"x": "independent", "y": "independent"}},
  "layer": [
   {"data": {"name": "e"}, "mark": {"type": "line", "strokeWidth": 1.5},
    "encoding": {
     "x": {"field": "t", "type": "quantitative", "scale": {"domain": [2.942, 3.9115], "nice": false, "zero": false}, "axis": null},
     "y": {"field": "v", "type": "quantitative", "scale": {"domain": [0.034, 0.0849], "nice": false, "zero": false},
      "axis": {"values": [0.04, 0.06, 0.08], "format": ".2f", "tickSize": -13, "labelPadding": 17, "title": "(A)", "titleX": -64, "titleY": 39, "titleAngle": 270, "titleBaseline": "middle", "titleAlign": "center"}},
     "color": {"field": "s", "type": "nominal", "scale": {"domain": ["b", "r", "g"], "range": ["#7878b4", "#ee8888", "#a0a0a0"]}, "legend": null}}},
   {"data": {"values": [{"t": 2.9805, "v": 0.0456, "label": "Radial outer gap (m)"}]}, "mark": {"type": "text", "align": "left", "baseline": "middle"},
    "encoding": {"x": {"field": "t", "type": "quantitative", "axis": null}, "y": {"field": "v", "type": "quantitative", "axis": {"orient": "left", "values": [0.05, 0.07], "tickSize": -7, "labels": false, "domain": false, "title": null, "grid": false}}, "text": {"field": "label"}}},
   {"data": {"values": [{"t": 3.9023, "v": 0.066, "label": "(e)"}]}, "mark": {"type": "text", "align": "right", "baseline": "middle"},
    "encoding": {"x": {"field": "t", "type": "quantitative", "axis": null}, "y": {"field": "v", "type": "quantitative", "axis": null}, "text": {"field": "label"}}}
  ]
 },
 {
  "width": 528, "height": 77,
  "resolve": {"axis": {"x": "independent", "y": "independent"}},
  "layer": [
   {"data": {"name": "f"}, "mark": {"type": "line", "strokeWidth": 2},
    "encoding": {
     "x": {"field": "t", "type": "quantitative", "scale": {"domain": [2.942, 3.9115], "nice": false, "zero": false},
      "axis": {"values": [3.0, 3.2, 3.4, 3.6, 3.8], "format": ".1f", "tickSize": -12, "labelPadding": 17, "title": "Time (s)", "titleX": 400, "titleY": 24, "titleBaseline": "top", "titleAlign": "center"}},
     "y": {"field": "v", "type": "quantitative", "scale": {"domain": [-0.08, 2.23], "nice": false, "zero": false},
      "axis": {"values": [0, 1, 2], "format": "d", "tickSize": -13, "labelPadding": 17, "title": null}},
     "color": {"field": "s", "type": "nominal", "scale": {"domain": ["b", "r"], "range": ["#8080b8", "#ec6a6a"]}, "legend": null}}},
   {"data": {"values": [{"t": 2.9805, "v": 1.35, "label": "P"}]}, "mark": {"type": "text", "align": "left", "baseline": "middle"},
    "encoding": {"x": {"field": "t", "type": "quantitative", "axis": null}, "y": {"field": "v", "type": "quantitative", "axis": {"orient": "left", "values": [0.5, 1.5], "tickSize": -7, "labels": false, "domain": false, "title": null, "grid": false}}, "text": {"field": "label"}}},
   {"data": {"values": [{"t": 3.0062, "v": 1.2, "label": "NB"}]}, "mark": {"type": "text", "align": "left", "baseline": "middle", "fontSize": 12},
    "encoding": {"x": {"field": "t", "type": "quantitative", "axis": null}, "y": {"field": "v", "type": "quantitative", "axis": null}, "text": {"field": "label"}}},
   {"data": {"values": [{"t": 3.0558, "v": 1.35, "label": "(ξ10MW)"}]}, "mark": {"type": "text", "align": "left", "baseline": "middle"},
    "encoding": {"x": {"field": "t", "type": "quantitative", "axis": null}, "y": {"field": "v", "type": "quantitative", "axis": null}, "text": {"field": "label"}}},
   {"data": {"values": [{"t": 3.9023, "v": 1.0, "label": "(f)"}]}, "mark": {"type": "text", "align": "right", "baseline": "middle"},
    "encoding": {"x": {"field": "t", "type": "quantitative", "axis": null}, "y": {"field": "v", "type": "quantitative", "axis": {"orient": "right", "ticks": false, "labels": false, "domain": false, "grid": false, "title": "JG12.309-16c", "titleFontSize": 12, "titleColor": "#333", "titleAngle": 270, "titleX": 10, "titleY": 39, "titleBaseline": "middle", "titleAlign": "center"}}, "text": {"field": "label"}}}
  ]
 }
],
"spacing": 0,
"bounds": "flush",
"resolve": {"scale": {"x": "independent", "y": "independent", "color": "independent"}, "axis": {"x": "independent", "y": "independent"}}
}
